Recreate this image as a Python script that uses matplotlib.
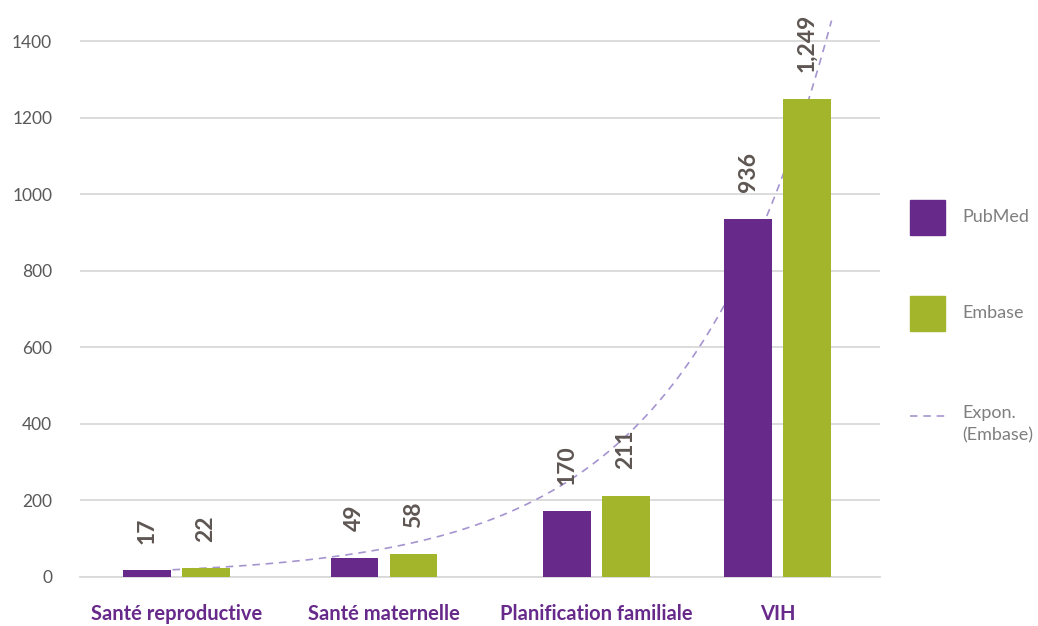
import numpy as np
import matplotlib.pyplot as plt
from matplotlib.patches import Rectangle
from matplotlib.lines import Line2D

plt.rcParams['font.family'] = ['Lato', 'DejaVu Sans']

categories = ['Santé reproductive', 'Santé maternelle', 'Planification familiale', 'VIH']
pubmed = [17, 49, 170, 936]
embase = [22, 58, 211, 1249]
value_labels_pubmed = ['17', '49', '170', '936']
value_labels_embase = ['22', '58', '211', '1,249']

purple = '#67298a'
green = '#a3b52a'
trend_col = '#a594cf'
grid_col = '#d9d9d9'
label_col = '#5e5652'

# group centres (the groups are not evenly spaced)
group_x = np.array([0.0, 1.036, 2.096, 3.0])
bw = 0.238
off = 0.147

fig = plt.figure(figsize=(10.38, 6.26), dpi=100)
ax = fig.add_axes([80 / 1038, 1 - 576.5 / 626, 800 / 1038, 556.5 / 626])

ax.bar(group_x - off, pubmed, bw, color=purple, zorder=3)
ax.bar(group_x + off, embase, bw, color=green, zorder=3)

for x, v, s in zip(group_x - off, pubmed, value_labels_pubmed):
    ax.annotate(s, (x, v), xytext=(0, 19), textcoords='offset points', rotation=90,
                ha='center', va='bottom', fontsize=16.5, fontweight='bold', color=label_col)
for x, v, s in zip(group_x + off, embase, value_labels_embase):
    ax.annotate(s, (x, v), xytext=(0, 19), textcoords='offset points', rotation=90,
                ha='center', va='bottom', fontsize=16.5, fontweight='bold', color=label_col)

# exponential trendline on Embase, fitted on category index 1..4 (evenly spaced
# between the first and last group), extended a bit past the last category
idx = np.arange(1, 5)
b, a = np.polyfit(idx, np.log(embase), 1)
t = np.linspace(0.98, 4.27, 200)
step = (group_x[-1] - group_x[0]) / 3
tx = group_x[0] + (t - 1) * step
ax.plot(tx, np.exp(a + b * t), color=trend_col, lw=1.2, ls=(0, (4.5, 3.5)), zorder=2)

ax.set_xlim(-0.482, 3.512)
ax.set_ylim(0, 1455)
ax.set_yticks(range(0, 1401, 200))
ax.yaxis.grid(True, color=grid_col, lw=1.3, zorder=0)
ax.set_axisbelow(True)
for s in ['top', 'right', 'left']:
    ax.spines[s].set_visible(False)
ax.spines['bottom'].set_color(grid_col)
ax.spines['bottom'].set_linewidth(1.3)
ax.tick_params(axis='y', length=0, pad=20, labelsize=12.5, labelcolor='#595959')
ax.set_xticks(group_x)
ax.set_xticklabels(categories, fontsize=14.5, fontweight='bold', color=purple)
ax.tick_params(axis='x', length=0, pad=20)

# legend on the right
def fx(px):
    return px / 1038

def fy(py):
    return 1 - py / 626

fig.add_artist(Rectangle((fx(910), fy(235)), 35 / 1038, 35 / 626, color=purple,
                         transform=fig.transFigure))
fig.add_artist(Rectangle((fx(910), fy(331)), 35 / 1038, 35 / 626, color=green,
                         transform=fig.transFigure))
fig.add_artist(Line2D([fx(910), fx(945)], [fy(416), fy(416)], color=trend_col, lw=1.2,
                      ls=(0, (4.5, 3.5)), transform=fig.transFigure))
fig.text(fx(962), fy(217), 'PubMed', fontsize=13, color='#7f7f7f', va='center')
fig.text(fx(962), fy(313), 'Embase', fontsize=13, color='#7f7f7f', va='center')
fig.text(fx(962), fy(405), 'Expon.\n(Embase)', fontsize=13, color='#7f7f7f', va='top',
         linespacing=1.5)

fig.savefig('out.png', dpi=100)
